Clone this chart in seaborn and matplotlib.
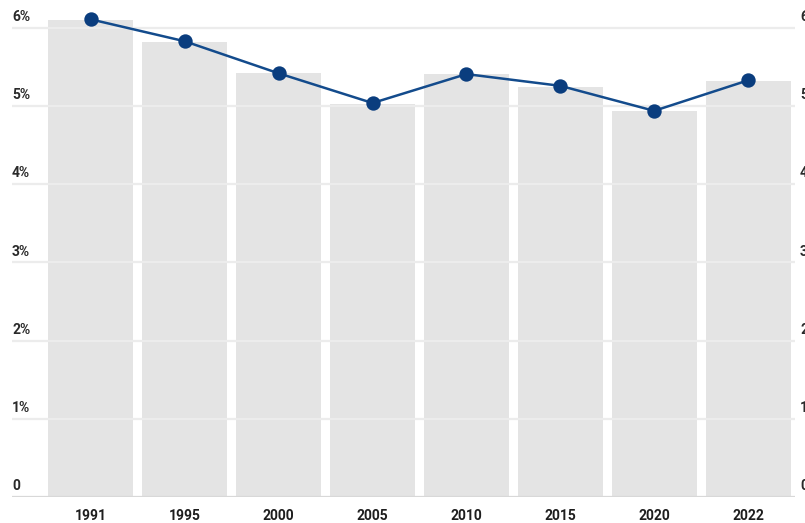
import matplotlib
matplotlib.use("Agg")
import matplotlib.pyplot as plt
import matplotlib.transforms as mtransforms
import seaborn as sns
import pandas as pd

years = ["1991", "1995", "2000", "2005", "2010", "2015", "2020", "2022"]
bar_values = [6.10, 5.82, 5.42, 5.03, 5.41, 5.24, 4.94, 5.32]
line_values = [6.11, 5.83, 5.42, 5.04, 5.41, 5.26, 4.94, 5.33]
y_ticks = [0, 1, 2, 3, 4, 5, 6]
left_labels = ["0", "1%", "2%", "3%", "4%", "5%", "6%"]
right_labels = ["0", "1%", "2%", "3%", "4%", "5%", "6%"]

df = pd.DataFrame({"year": years, "bar": bar_values, "line": line_values})

sns.set_theme(style="white")
plt.rcParams["font.family"] = ["Roboto", "DejaVu Sans"]

W, H = 805, 523
fig = plt.figure(figsize=(W / 100, H / 100), dpi=100)
ymax = 6.25
px_per_unit = 78.17
ax_h = ymax * px_per_unit
ax = fig.add_axes([12 / W, 26 / H, 783 / W, ax_h / H])

sns.barplot(data=df, x="year", y="bar", color="#e4e4e4", saturation=1,
            width=0.905, ax=ax, zorder=1, edgecolor="none")
sns.pointplot(data=df, x="year", y="line", color="#0b3f80", ax=ax,
              markers="o", markersize=9, linewidth=1.8, zorder=5)
for line in ax.lines:
    line.set_color("#134b8c")
    line.set_markerfacecolor("#0a3d7e")
    line.set_markeredgecolor("#0a3d7e")

ax.set_xlim(-0.84, 7.5)
ax.set_ylim(0, ymax)
for s in ax.spines.values():
    s.set_visible(False)

for v in y_ticks[1:]:
    ax.axhline(v, color="#ececec", lw=1.6, zorder=3)
ax.axhline(0, color="#d8d8d8", lw=1.6, zorder=3)

ax.set_yticks([])
ax.set_xlabel("")
ax.set_ylabel("")
ax.tick_params(axis="x", length=0, pad=9, labelsize=10, colors="#1e1e1e")
for t in ax.get_xticklabels():
    t.set_fontweight("bold")

trans = mtransforms.blended_transform_factory(ax.transAxes, ax.transData)
for v, lab in zip(y_ticks, left_labels):
    ax.text(0.0, v + 0.05, lab, transform=trans, ha="left", va="bottom",
            fontsize=10, fontweight="bold", color="#2a2a2a", clip_on=False)
for v, lab in zip(y_ticks, right_labels):
    ax.text(1.0064, v + 0.05, lab, transform=trans, ha="left", va="bottom",
            fontsize=10, fontweight="bold", color="#2a2a2a", clip_on=False)

fig.savefig("out.png", dpi=100)
